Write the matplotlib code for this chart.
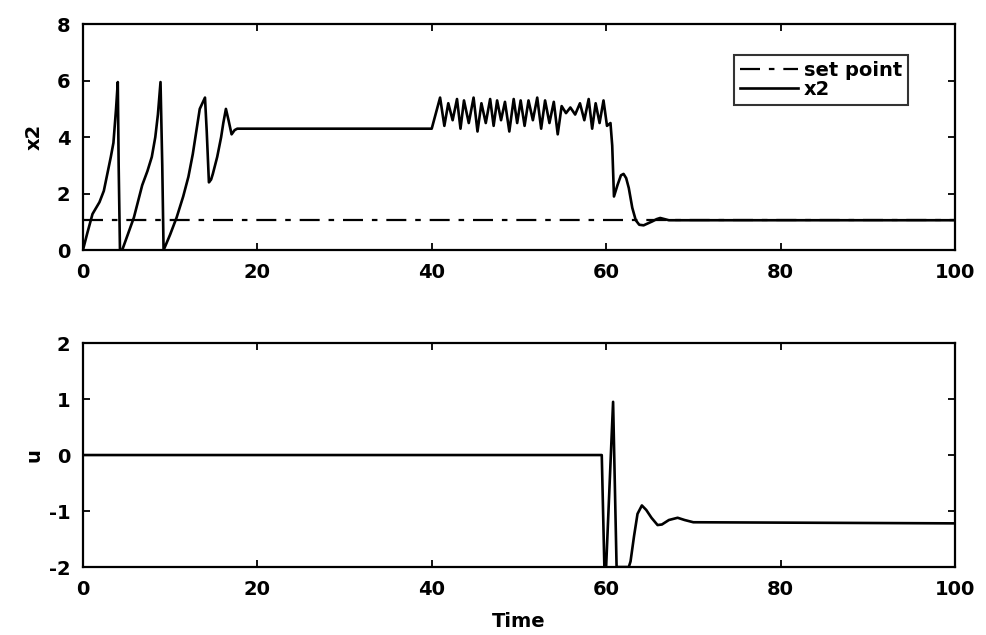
import matplotlib
matplotlib.use("Agg")
import matplotlib.pyplot as plt

# ---- data ----
setpoint_t = [0, 100]
setpoint_v = [1.06, 1.06]

x2_t = [0, 0.5, 1.1, 1.9, 2.4, 2.8, 3.2, 3.5, 3.8, 4.0, 4.1, 4.25, 4.5,
        5.2, 5.85, 6.8, 7.4, 7.9, 8.3, 8.6, 8.9, 9.1, 9.25,
        10.0, 10.75, 11.5, 12.1, 12.6, 13.0, 13.4, 13.7, 14.0, 14.2, 14.45,
        14.7, 14.9, 15.4, 15.85, 16.1, 16.4, 16.7, 17.05, 17.4, 17.7, 40.0,
        40.96, 41.45, 41.9, 42.4, 42.9, 43.3, 43.7, 44.25, 44.8, 45.25, 45.7,
        46.2, 46.7, 47.1, 47.5, 47.95, 48.4, 48.9, 49.4, 49.8, 50.2, 50.65,
        51.1, 51.6, 52.1, 52.55, 53.0, 53.5, 54.0, 54.45, 54.9, 55.4, 55.9,
        56.45, 57.0, 57.5, 58.0, 58.4, 58.8, 59.25, 59.7, 60.1, 60.5, 60.7,
        60.9, 61.3, 61.7, 62.0, 62.3, 62.6, 63.0, 63.4, 63.8, 64.3, 64.8,
        65.3, 65.8, 66.2, 66.7, 67.2, 70.5, 100]
x2_v = [0, 0.6, 1.28, 1.7, 2.1, 2.7, 3.3, 3.8, 5.0, 5.95, 3.0, 0, 0,
        0.6, 1.16, 2.3, 2.8, 3.3, 4.0, 4.8, 5.95, 3.0, 0,
        0.55, 1.16, 1.9, 2.6, 3.4, 4.2, 5.0, 5.2, 5.4, 4.2, 2.4,
        2.5, 2.7, 3.3, 4.0, 4.5, 5.0, 4.6, 4.1, 4.25, 4.3, 4.3,
        5.4, 4.4, 5.2, 4.6, 5.35, 4.3, 5.3, 4.5, 5.4, 4.2, 5.2,
        4.5, 5.35, 4.4, 5.3, 4.6, 5.25, 4.2, 5.35, 4.5, 5.3, 4.4,
        5.3, 4.6, 5.4, 4.3, 5.3, 4.5, 5.25, 4.1, 5.1, 4.85, 5.05,
        4.8, 5.2, 4.6, 5.35, 4.3, 5.2, 4.5, 5.3, 4.4, 4.5, 3.7,
        1.9, 2.3, 2.65, 2.7, 2.55, 2.2, 1.5, 1.06, 0.9, 0.88, 0.95,
        1.02, 1.1, 1.14, 1.1, 1.06, 1.06, 1.06]

u_t = [0, 59.5, 59.8, 60.0, 60.8, 61.2, 62.6, 62.8, 63.2, 63.6, 64.1, 64.6,
       65.2, 65.9, 66.4, 67.2, 68.2, 69.0, 70.0, 100]
u_v = [0, 0, -2, -2, 0.95, -2, -2, -1.9, -1.45, -1.05, -0.9, -0.98,
       -1.12, -1.25, -1.24, -1.16, -1.12, -1.16, -1.2, -1.22]

x_ticks = [0, 20, 40, 60, 80, 100]
x2_yticks = [0, 2, 4, 6, 8]
u_yticks = [-2, -1, 0, 1, 2]

plt.rcParams['font.family'] = ['DejaVu Sans']
plt.rcParams['font.weight'] = 'bold'
plt.rcParams['axes.labelweight'] = 'bold'
plt.rcParams['axes.unicode_minus'] = False

fig = plt.figure(figsize=(9.87, 6.35), dpi=100)
ax1 = fig.add_axes([0.084, 0.606, 0.8835, 0.356])
ax2 = fig.add_axes([0.084, 0.107, 0.8835, 0.3528])

lw = 1.9
ax1.plot(setpoint_t, setpoint_v, color='black', lw=1.6,
         linestyle=(0, (9, 4, 2.5, 4)), label='set point')
ax1.plot(x2_t, x2_v, color='black', lw=lw, label='x2')
ax2.plot(u_t, u_v, color='black', lw=lw)

for ax, yt in ((ax1, x2_yticks), (ax2, u_yticks)):
    ax.set_xlim(0, 100)
    ax.set_ylim(yt[0], yt[-1])
    ax.set_xticks(x_ticks)
    ax.set_yticks(yt)
    ax.tick_params(direction='in', top=True, right=True, length=5, width=1.3,
                   labelsize=14, pad=9)
    for s in ax.spines.values():
        s.set_linewidth(1.6)

ax1.set_ylabel('x2', fontsize=14)
ax2.set_ylabel('u', fontsize=14)
ax1.yaxis.set_label_coords(-0.045, 0.5)
ax2.yaxis.set_label_coords(-0.045, 0.5)
ax2.set_xlabel('Time', fontsize=14, labelpad=10)

leg = ax1.legend(loc='upper right', bbox_to_anchor=(0.946, 0.863),
                 fontsize=14, frameon=True, fancybox=False, edgecolor='black',
                 handlelength=3.0, labelspacing=0.0, borderpad=0.3,
                 handletextpad=0.3, borderaxespad=0)
leg.get_frame().set_linewidth(1.5)

fig.savefig('out.png', dpi=100, facecolor='white')
